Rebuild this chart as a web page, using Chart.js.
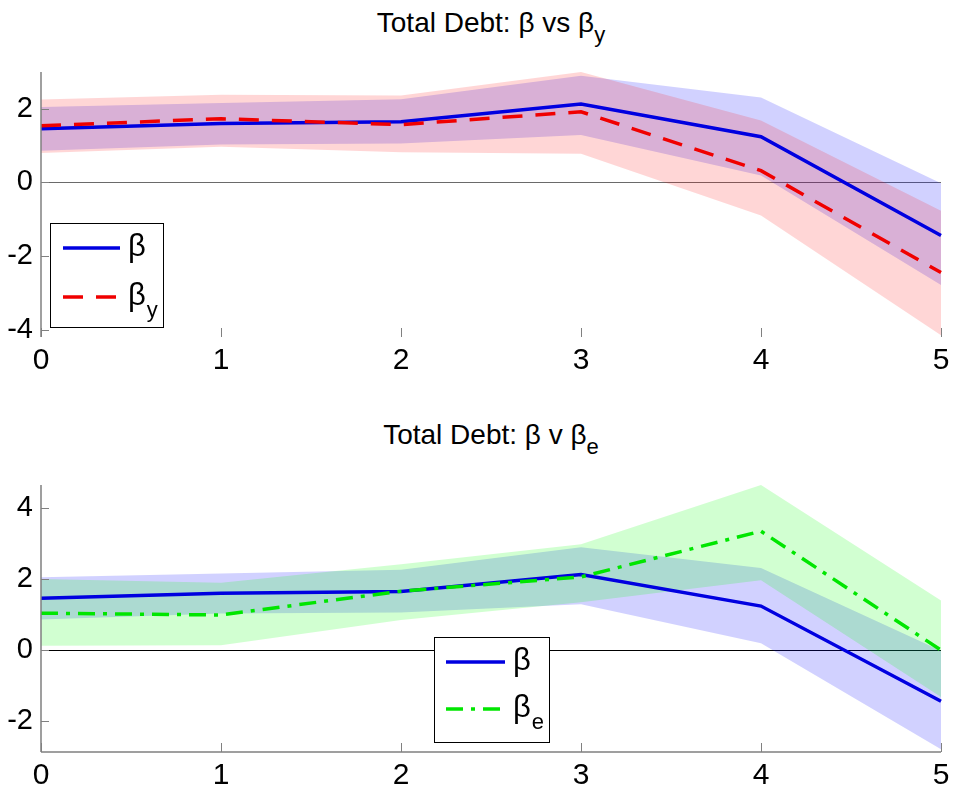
<!DOCTYPE html>
<html>
<head>
<meta charset="utf-8">
<script src="https://cdn.jsdelivr.net/npm/chart.js@4"></script>
<style>
body{margin:0;background:#fff;width:956px;height:803px;position:relative;overflow:hidden;font-family:"Liberation Sans",Arial,sans-serif}
.titulo{position:absolute;left:41px;width:900px;text-align:center;font-size:28px;line-height:28px;color:#000;white-space:nowrap}
.titulo sub{font-size:22px;vertical-align:-10px;line-height:0}
.panel{position:absolute;left:0;width:956px}
</style>
</head>
<body>
<div class="titulo" style="top:9px">Total Debt: β vs β<sub>y</sub></div>
<div class="panel" style="top:60px;height:320px"><canvas id="grafArriba"></canvas></div>
<div class="titulo" style="top:421px">Total Debt: β v β<sub>e</sub></div>
<div class="panel" style="top:470px;height:333px"><canvas id="grafAbajo"></canvas></div>
<script>
// horizontes
const periodos=['0','1','2','3','4','5']

// beta (igual en los dos paneles)
const beta=[1.46,1.60,1.65,2.13,1.24,-1.44]
const betaSup=[2.05,2.16,2.26,2.90,2.31,-0.02]
const betaInf=[0.86,1.03,1.06,1.29,0.19,-2.79]

// beta_y
const betaY=[1.54,1.73,1.57,1.92,0.32,-2.45]
const betaYSup=[2.25,2.38,2.36,3.00,1.68,-0.77]
const betaYInf=[0.80,0.97,0.82,0.78,-0.90,-4.15]

// beta_e
const betaE=[1.04,0.99,1.66,2.06,3.35,0.00]
const betaESup=[2.00,1.90,2.42,2.98,4.65,1.40]
const betaEInf=[0.12,0.14,0.85,1.35,1.97,-1.32]

const ticksArriba=[-4,-2,0,2]
const ticksAbajo=[-2,0,2,4]

const fuente='"Liberation Sans", Arial, sans-serif'

function banda(sup,inf,color,orden){
  return [
    {data:sup,borderWidth:0,pointRadius:0,fill:false,order:orden},
    {data:inf,borderWidth:0,pointRadius:0,fill:'-1',backgroundColor:color,order:orden}
  ]
}

function linea(datos,color,dash,label,sub,orden){
  return {data:datos,borderColor:color,borderWidth:3.5,borderDash:dash,pointRadius:0,
    fill:false,tension:0,label:label,sub:sub,order:orden,borderCapStyle:'butt'}
}

// ejes estilo matlab: marcas hacia dentro, linea del cero
const marcasEjes={
  id:'marcasEjes',
  beforeDatasetsDraw(chart,args,opts){
    const {ctx,chartArea:a,scales:{y}}=chart
    const y0=Math.round(y.getPixelForValue(0))+0.5
    ctx.save()
    ctx.strokeStyle=opts.colorCero
    ctx.lineWidth=1
    ctx.beginPath()
    ctx.moveTo(a.left,y0)
    ctx.lineTo(a.right,y0)
    ctx.stroke()
    ctx.restore()
  },
  afterDraw(chart,args,opts){
    const {ctx,chartArea:a,scales:{x,y}}=chart
    ctx.save()
    ctx.strokeStyle='#808080'
    ctx.lineWidth=1.5
    ctx.beginPath()
    ctx.moveTo(a.left,a.top)
    ctx.lineTo(a.left,a.bottom)
    if(opts.ejeX){
      ctx.moveTo(a.left,a.bottom)
      ctx.lineTo(a.right,a.bottom)
    }
    ctx.stroke()
    ctx.lineWidth=1
    ctx.beginPath()
    y.ticks.forEach(t=>{
      const p=Math.round(y.getPixelForValue(t.value))+0.5
      ctx.moveTo(a.left,p)
      ctx.lineTo(a.left+8,p)
    })
    x.ticks.forEach((t,i)=>{
      const p=Math.round(x.getPixelForTick(i))+0.5
      ctx.moveTo(p,a.bottom)
      ctx.lineTo(p,a.bottom-9)
    })
    ctx.stroke()
    ctx.restore()
  }
}

const leyenda={
  id:'leyenda',
  afterDraw(chart,args,opts){
    const ctx=chart.ctx
    const c=opts.caja
    ctx.save()
    ctx.fillStyle='#fff'
    ctx.fillRect(c.x,c.y,c.w,c.h)
    ctx.strokeStyle='#000'
    ctx.lineWidth=1
    ctx.strokeRect(c.x+0.5,c.y+0.5,c.w,c.h)
    const items=chart.data.datasets.filter(d=>d.label).sort((a,b)=>b.order-a.order)
    items.forEach((d,i)=>{
      const yy=c.y+opts.primeraFila+i*opts.separacion
      ctx.strokeStyle=d.borderColor
      ctx.lineWidth=3.5
      ctx.setLineDash(d.borderDash||[])
      ctx.beginPath()
      ctx.moveTo(c.x+opts.lineaIni,yy)
      ctx.lineTo(c.x+opts.lineaFin,yy)
      ctx.stroke()
      ctx.setLineDash([])
      ctx.fillStyle='#000'
      ctx.textBaseline='middle'
      ctx.font='31px '+fuente
      ctx.fillText(d.label,c.x+opts.texto,yy-1)
      if(d.sub){
        const w=ctx.measureText(d.label).width
        ctx.font='22px '+fuente
        ctx.fillText(d.sub,c.x+opts.texto+w+1,yy+14)
      }
    })
    ctx.restore()
  }
}

function opciones(min,max,ticks,alturaX,padTop,plug){
  return {
    responsive:true,
    maintainAspectRatio:false,
    animation:false,
    layout:{padding:{top:padTop,right:15,left:0,bottom:0}},
    plugins:{legend:{display:false},tooltip:{enabled:false},...plug},
    scales:{
      x:{
        type:'category',offset:false,
        grid:{display:false,drawTicks:false},border:{display:false},
        ticks:{color:'#000',font:{size:30,family:fuente},padding:6,maxRotation:0,autoSkip:false},
        afterFit:s=>{s.height=alturaX;s.paddingLeft=0;s.paddingRight=0}
      },
      y:{
        min:min,max:max,
        afterBuildTicks:s=>{s.ticks=ticks.map(v=>({value:v}))},
        grid:{display:false,drawTicks:false},border:{display:false},
        ticks:{color:'#000',font:{size:29,family:fuente},padding:8},
        afterFit:s=>{s.width=41;s.paddingTop=0;s.paddingBottom=0}
      }
    }
  }
}

const azul='#0000e0'
const rojo='#f00000'
const verde='#00e600'

new Chart(document.getElementById('grafArriba'),{
  type:'line',
  data:{
    labels:periodos,
    datasets:[
      linea(betaY,rojo,[20,13],'β','y',0),
      linea(beta,azul,[],'β','',1),
      ...banda(betaYSup,betaYInf,'rgba(255,0,0,0.16)',2),
      ...banda(betaSup,betaInf,'rgba(0,0,255,0.18)',3)
    ]
  },
  options:opciones(-4.2,3.0,ticksArriba,43,12,{
    marcasEjes:{colorCero:'#6a6a6a',ejeX:false},
    leyenda:{caja:{x:50,y:163,w:113,h:104},primeraFila:25,separacion:49,lineaIni:13,lineaFin:70,texto:78}
  }),
  plugins:[marcasEjes,leyenda]
})

new Chart(document.getElementById('grafAbajo'),{
  type:'line',
  data:{
    labels:periodos,
    datasets:[
      linea(betaE,verde,[17,8,4,8],'β','e',0),
      linea(beta,azul,[],'β','',1),
      ...banda(betaESup,betaEInf,'rgba(0,255,0,0.18)',2),
      ...banda(betaSup,betaInf,'rgba(0,0,255,0.18)',3)
    ]
  },
  options:opciones(-2.87,4.65,ticksAbajo,51,15,{
    marcasEjes:{colorCero:'#000',ejeX:true},
    leyenda:{caja:{x:434,y:167,w:115,h:105},primeraFila:25,separacion:47,lineaIni:12,lineaFin:71,texto:79}
  }),
  plugins:[marcasEjes,leyenda]
})
</script>
</body>
</html>
